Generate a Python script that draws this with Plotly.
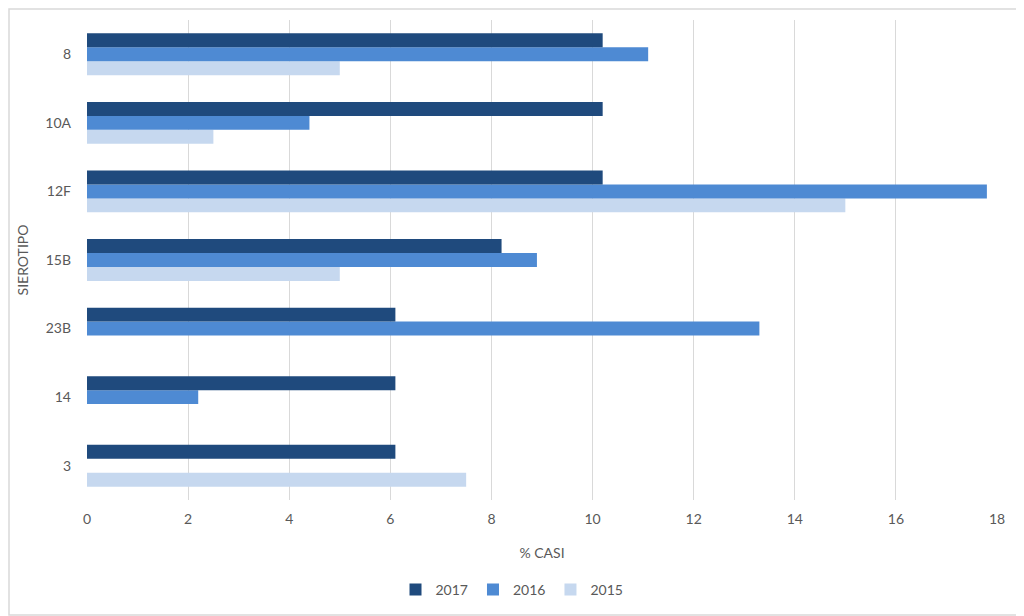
import plotly.graph_objects as go

sierotipi = ['3', '14', '23B', '15B', '12F', '10A', '8']
val_2017 = [6.1, 6.1, 6.1, 8.2, 10.2, 10.2, 10.2]
val_2016 = [0, 2.2, 13.3, 8.9, 17.8, 4.4, 11.1]
val_2015 = [7.5, 0, 0, 5.0, 15.0, 2.5, 5.0]

colori = {'2017': '#1F4A7D', '2016': '#4E8AD3', '2015': '#C6D8EF'}

fig = go.Figure()
# plotly puts the first trace at the bottom of each group
for anno, vals in [('2015', val_2015), ('2016', val_2016), ('2017', val_2017)]:
    fig.add_trace(go.Bar(
        y=sierotipi, x=vals, name=anno, orientation='h',
        marker=dict(color=colori[anno], line=dict(width=0))
    ))

# page body has an 8px margin, so the figure is a bit smaller
W, H = 1016, 608
ml, mr, mt, mb = 79, 27, 12, 116
pw, ph = W - ml - mr, H - mt - mb

fig.update_layout(
    width=W, height=H,
    barmode='group', bargap=0.39, bargroupgap=0,
    plot_bgcolor='white', paper_bgcolor='white',
    margin=dict(l=ml, r=mr, t=mt, b=mb, autoexpand=False),
    font=dict(family='Lato, Carlito, Calibri, sans-serif', size=14, color='#595959'),
    legend=dict(orientation='h', traceorder='reversed', x=(504 - ml) / pw, xanchor='center',
                y=-0.1875, yanchor='middle', itemwidth=30,
                font=dict(size=14, color='#595959')),
    showlegend=True,
)

fig.update_xaxes(
    range=[0, 18], dtick=2, showgrid=True, gridcolor='#D9D9D9', gridwidth=1,
    zeroline=False, showline=False, ticks='', automargin=False,
    ticklabelstandoff=9,
    title=dict(text='% CASI', standoff=22, font=dict(size=14, color='#595959')),
    tickfont=dict(size=14, color='#595959'),
)
fig.update_yaxes(
    type='category', categoryorder='array', categoryarray=sierotipi,
    showgrid=False, zeroline=False, showline=False, ticks='', ticklen=0,
    ticklabelstandoff=15, automargin=False,
    title=dict(text='SIEROTIPO', standoff=13, font=dict(size=14, color='#595959')),
    tickfont=dict(size=14, color='#595959'),
)

# border around the whole chart
fig.add_shape(type='rect', xref='paper', yref='paper',
              x0=-(ml - 1) / pw, x1=1 + (mr - 1) / pw,
              y0=-(mb - 1) / ph, y1=1 + (mt - 1) / ph,
              line=dict(color='#D9D9D9', width=1.5), layer='below')

fig.write_html('out.html')
